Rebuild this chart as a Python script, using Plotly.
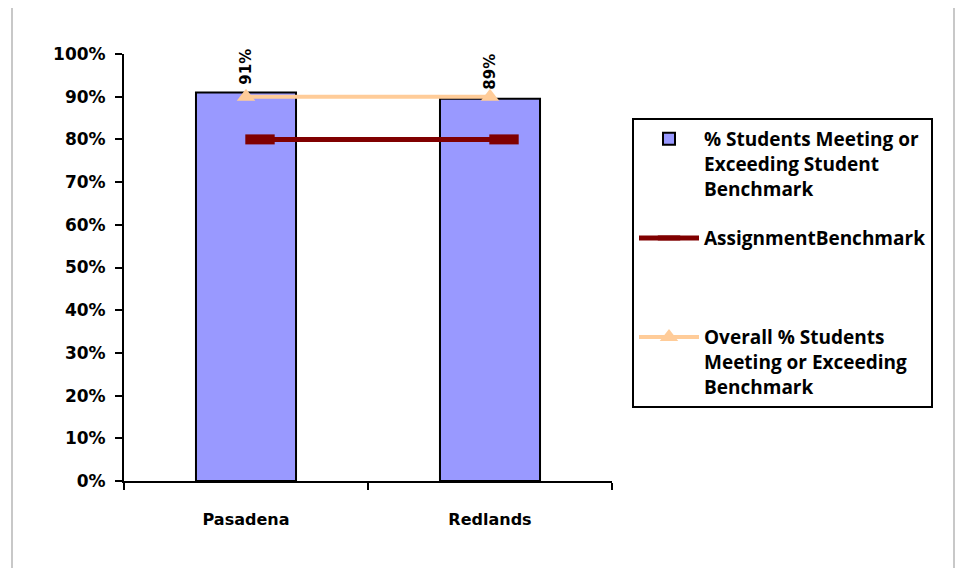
import plotly.graph_objects as go

categories = ["Pasadena", "Redlands"]
students_meeting = [0.91, 0.895]
bar_labels = ["91%", "89%"]
assignment_benchmark = [0.80, 0.80]
overall_meeting = [0.90, 0.90]
y_ticks = [0, 0.1, 0.2, 0.3, 0.4, 0.5, 0.6, 0.7, 0.8, 0.9, 1.0]
y_tick_labels = ["0%", "10%", "20%", "30%", "40%", "50%", "60%", "70%", "80%", "90%", "100%"]

OFF = 8  # default page body margin
W, H = 963 - OFF, 568 - OFF
L, R, T, B = 124, 612, 54, 481  # plot area in page pixels

def px_x(p):
    return (p - L) / (R - L)

def px_y(p):
    return (B - p) / (B - T)

SHIFT = 14 / ((R - L) / 2)  # benchmark series drawn slightly right of category centres

fig = go.Figure()
fig.add_trace(go.Bar(
    x=categories, y=students_meeting,
    name="% Students Meeting or<br>Exceeding Student<br>Benchmark",
    marker=dict(color="#9999ff", line=dict(color="black", width=2)),
    width=0.41,
    legendgroup="a",
))
fig.add_trace(go.Scatter(
    x=categories, y=assignment_benchmark,
    xaxis="x2",
    name="AssignmentBenchmark<br> <br> ",
    mode="lines+markers",
    line=dict(color="#800000", width=5),
    marker=dict(symbol="line-ew", size=21, line=dict(color="#800000", width=10)),
    legendgroup="b",
))
fig.add_trace(go.Scatter(
    x=categories, y=overall_meeting,
    name="Overall % Students<br>Meeting or Exceeding<br>Benchmark",
    mode="lines+markers",
    line=dict(color="#ffcc99", width=4),
    marker=dict(symbol="triangle-up", size=16, color="#ffcc99"),
    legendgroup="c",
))

for c, v, t in zip(categories, overall_meeting, bar_labels):
    fig.add_annotation(
        x=c, y=v, text="<b>" + t + "</b>", textangle=-90, showarrow=False,
        xref="x", yref="y", yanchor="bottom", yshift=10 if t == "91%" else 5,
        font=dict(family="DejaVu Sans", size=15, color="black"),
    )

fig.add_shape(
    type="rect", xref="paper", yref="paper",
    x0=px_x(12), x1=px_x(954), y0=px_y(3), y1=px_y(600),
    line=dict(color="#c8c8c8", width=2), fillcolor="rgba(0,0,0,0)", layer="below",
)

fig.update_layout(
    width=W, height=H,
    margin=dict(l=L - OFF, r=W - (R - OFF), t=T - OFF, b=H - (B - OFF), autoexpand=False),
    paper_bgcolor="white", plot_bgcolor="white",
    showlegend=True,
    legend=dict(
        x=px_x(632), y=px_y(118), xanchor="left", yanchor="top",
        bordercolor="black", borderwidth=2, bgcolor="white",
        font=dict(family="Open Sans", size=19, color="black", weight="bold"),
        valign="top", tracegroupgap=22, itemwidth=60,
        traceorder="grouped",
    ),
    xaxis=dict(
        type="category", tickson="boundaries", ticks="outside", ticklen=7,
        tickwidth=2, tickcolor="black", showline=True, linecolor="black",
        linewidth=2, showgrid=False, ticklabelstandoff=23,
        tickfont=dict(family="DejaVu Sans", size=16, color="black", weight="bold"),
        range=[-0.5, 1.5],
    ),
    xaxis2=dict(
        type="category", overlaying="x", visible=False,
        categoryorder="array", categoryarray=categories,
        range=[-0.5 - SHIFT, 1.5 - SHIFT],
    ),
    yaxis=dict(
        range=[0, 1.0], tickvals=y_ticks, ticktext=y_tick_labels,
        ticks="outside", ticklen=7, tickwidth=2, tickcolor="black",
        showline=True, linecolor="black", linewidth=2, showgrid=False,
        zeroline=False, ticklabelstandoff=6,
        tickfont=dict(family="DejaVu Sans", size=17, color="black", weight="bold"),
    ),
)
fig.write_html("out.html")
